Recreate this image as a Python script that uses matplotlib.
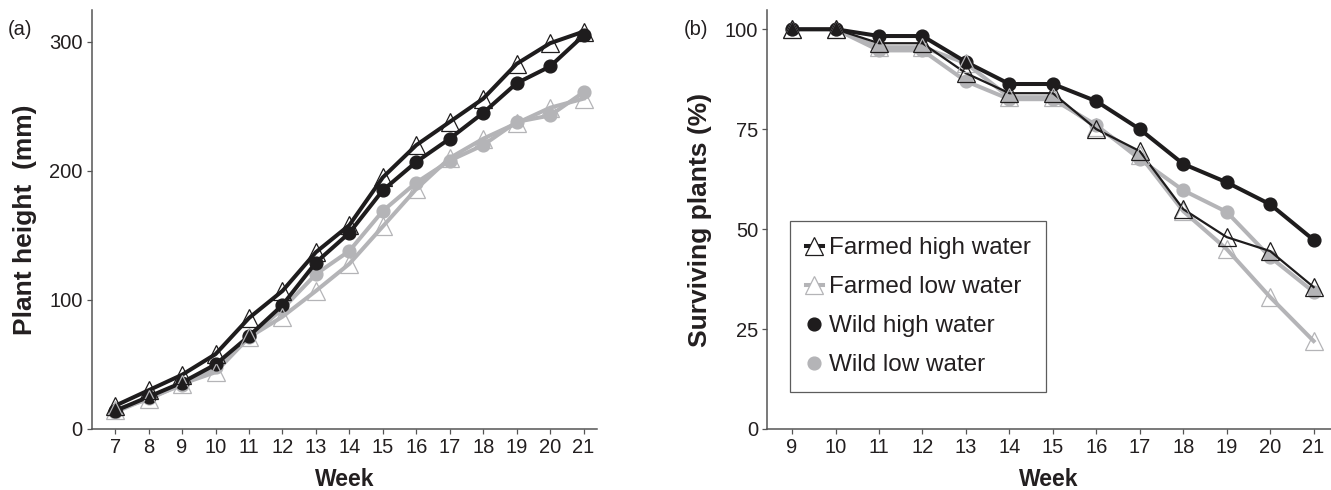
import matplotlib
matplotlib.use("Agg")
import matplotlib.pyplot as plt
from matplotlib.lines import Line2D

plt.rcParams['font.family'] = ['Liberation Sans', 'DejaVu Sans']

# ---- data ----
weeks_a = [7, 8, 9, 10, 11, 12, 13, 14, 15, 16, 17, 18, 19, 20, 21]
farmed_high_a = [18, 30, 42, 58, 86, 107, 137, 158, 195, 220, 238, 256, 283, 299, 308]
wild_high_a = [14, 25, 36, 50, 72, 96, 129, 152, 185, 207, 225, 245, 268, 281, 305]
farmed_low_a = [15, 23, 35, 44, 71, 87, 107, 128, 157, 186, 210, 225, 237, 249, 256]
wild_low_a = [13, 24, 34, 48, 71, 93, 120, 138, 169, 191, 208, 220, 238, 243, 261]

weeks_b = [9, 10, 11, 12, 13, 14, 15, 16, 17, 18, 19, 20, 21]
farmed_high_b = [100, 100, 96.5, 96.5, 89, 84, 84, 75, 69.5, 55, 48, 44.5, 35.5]
farmed_low_b = [100, 100, 95.5, 95.5, 91.5, 83, 83, 75.5, 68.5, 54.5, 45, 33, 22]
wild_high_b = [100, 100, 98.3, 98.3, 91.8, 86.3, 86.3, 82, 75, 66.3, 61.7, 56.2, 47.3]
wild_low_b = [100, 100, 94.7, 94.7, 87, 82.5, 82.5, 76, 67.5, 59.7, 54.3, 43, 34.3]

labels = ["Farmed high water", "Farmed low water", "Wild high water", "Wild low water"]
yticks_a = [0, 100, 200, 300]
yticks_b = [0, 25, 50, 75, 100]

BLACK = '#1e1c1d'
GRAY = '#b4b4b7'
TXT = '#231f20'

fig = plt.figure(figsize=(13.31, 4.90), dpi=100)
ax1 = fig.add_axes([0.0689, 0.1245, 0.3796, 0.855])
ax2 = fig.add_axes([0.5765, 0.1245, 0.4235, 0.855])


def draw(ax, x, fh, fl, wh, wl, fh_lw):
    # gray series first, black on top
    ax.plot(x, wl, color=GRAY, lw=2.9, marker='o', ms=9.2, mfc=GRAY, mec=GRAY, zorder=2)
    ax.plot(x, fl, color=GRAY, lw=2.9, zorder=2)
    ax.plot(x, wh, color=BLACK, lw=2.9, marker='o', ms=9.2, mfc=BLACK, mec=BLACK, zorder=3)
    ax.plot(x, fh, color=BLACK, lw=fh_lw, zorder=3)
    ax.plot(x, fl, ls='none', marker='^', ms=13, mfc='none', mec=GRAY, mew=0.9, zorder=4)
    ax.plot(x, fh, ls='none', marker='^', ms=13, mfc='none', mec=BLACK, mew=0.9, zorder=5)


draw(ax1, weeks_a, farmed_high_a, farmed_low_a, wild_high_a, wild_low_a, 2.9)
draw(ax2, weeks_b, farmed_high_b, farmed_low_b, wild_high_b, wild_low_b, 1.6)

for ax in (ax1, ax2):
    for s in ('top', 'right'):
        ax.spines[s].set_visible(False)
    for s in ('left', 'bottom'):
        ax.spines[s].set_color('#555555')
        ax.spines[s].set_linewidth(1.1)
    ax.tick_params(axis='both', direction='out', length=3.5, width=0.9,
                   colors='#555555', labelcolor=TXT, labelsize=14.5, pad=3)
    ax.set_xlabel('Week', fontsize=16.5, fontweight='bold', color=TXT, labelpad=8)

ax1.set_xlim(6.3, 21.4)
ax1.set_ylim(0, 324.7)
ax1.set_xticks(weeks_a)
ax1.set_yticks(yticks_a)
ax1.set_ylabel('Plant height  (mm)', fontsize=19, fontweight='bold', color=TXT, labelpad=9)

ax2.set_xlim(8.43, 21.4)
ax2.set_ylim(0, 104.8)
ax2.set_xticks(weeks_b)
ax2.set_yticks(yticks_b)
ax2.set_ylabel('Surviving plants (%)', fontsize=19, fontweight='bold', color=TXT, labelpad=9)

fig.text(0.006, 0.928, '(a)', fontsize=14.5, color=TXT)
fig.text(0.514, 0.928, '(b)', fontsize=14.5, color=TXT)

handles = [
    Line2D([], [], color=BLACK, lw=2.9, marker='^', ms=13, mfc='white', mec=BLACK, mew=0.9),
    Line2D([], [], color=GRAY, lw=2.9, marker='^', ms=13, mfc='white', mec=GRAY, mew=0.9),
    Line2D([], [], color=BLACK, lw=0, marker='o', ms=9.2, mfc=BLACK, mec=BLACK),
    Line2D([], [], color=GRAY, lw=0, marker='o', ms=9.2, mfc=GRAY, mec=GRAY),
]
leg = ax2.legend(handles, labels, loc='lower left', bbox_to_anchor=(0.040, 0.088),
                 borderaxespad=0, fontsize=17.5, frameon=True, fancybox=False,
                 edgecolor='#333333', handlelength=0.7, handletextpad=0.25,
                 labelspacing=0.7, borderpad=0.65)
leg.get_frame().set_linewidth(0.9)
for t in leg.get_texts():
    t.set_color(TXT)

fig.savefig('out.png', dpi=100)
